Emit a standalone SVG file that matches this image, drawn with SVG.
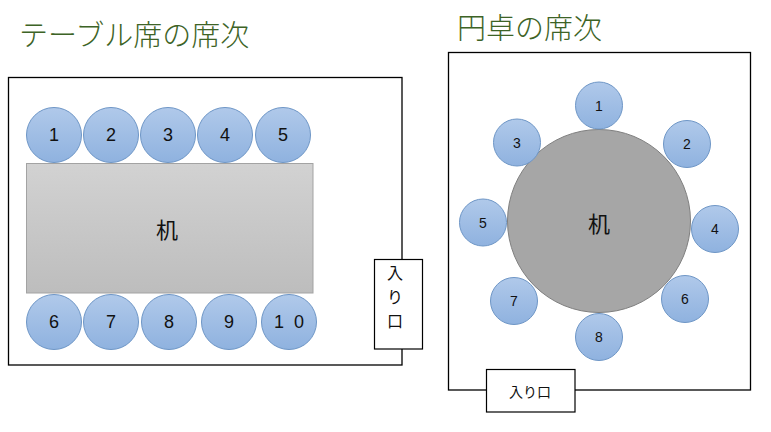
<svg xmlns="http://www.w3.org/2000/svg" width="771" height="432" viewBox="0 0 771 432">
<defs>
<linearGradient id="seat" x1="0" y1="0" x2="0" y2="1"><stop offset="0" stop-color="#b0c9ea"/><stop offset="1" stop-color="#8fb2df"/></linearGradient>
<linearGradient id="desk" x1="0" y1="0" x2="0" y2="1"><stop offset="0" stop-color="#d2d2d2"/><stop offset="1" stop-color="#bdbdbd"/></linearGradient>
</defs>
<style>
.title{font-family:"Noto Sans CJK JP","Liberation Sans",sans-serif;font-size:29px;fill:#3d6326;font-weight:300}
.room{fill:#fff;stroke:#000;stroke-width:1.3}
.seat{fill:url(#seat);stroke:#6e96c6;stroke-width:1}
.n{font-family:"Liberation Sans","Noto Sans CJK JP",sans-serif;fill:#111;text-anchor:middle;dominant-baseline:central}
.l{font-size:18px}
.s{font-size:14px}
.jp{font-family:"Noto Sans CJK JP",sans-serif;fill:#111;text-anchor:middle;dominant-baseline:central}
</style>
<rect width="771" height="432" fill="#fff"/>
<text class="title" x="19" y="46">テーブル席の席次</text>
<text class="title" x="457" y="39">円卓の席次</text>

<g id="room-left"><rect class="room" x="8.5" y="77.5" width="393.5" height="287.5"/></g>
<g id="desk-left"><rect x="26.5" y="163.5" width="286.5" height="129.5" fill="url(#desk)" stroke="#a3a3a3"/><text class="jp" x="167" y="228" font-size="22">机</text></g>
<g id="seat-l1"><circle class="seat" cx="54" cy="135" r="27.5"/><text class="n l" x="54" y="135">1</text></g>
<g id="seat-l2"><circle class="seat" cx="111" cy="135" r="27.5"/><text class="n l" x="111" y="135">2</text></g>
<g id="seat-l3"><circle class="seat" cx="168" cy="135" r="27.5"/><text class="n l" x="168" y="135">3</text></g>
<g id="seat-l4"><circle class="seat" cx="225" cy="135" r="27.5"/><text class="n l" x="225" y="135">4</text></g>
<g id="seat-l5"><circle class="seat" cx="283" cy="135" r="27.5"/><text class="n l" x="283" y="135">5</text></g>
<g id="seat-l6"><circle class="seat" cx="54" cy="322" r="27.5"/><text class="n l" x="54" y="322">6</text></g>
<g id="seat-l7"><circle class="seat" cx="111" cy="322" r="27.5"/><text class="n l" x="111" y="322">7</text></g>
<g id="seat-l8"><circle class="seat" cx="169" cy="322" r="27.5"/><text class="n l" x="169" y="322">8</text></g>
<g id="seat-l9"><circle class="seat" cx="229" cy="322" r="27.5"/><text class="n l" x="229" y="322">9</text></g>
<g id="seat-l10"><circle class="seat" cx="289" cy="322" r="27.5"/><text class="n l" x="289" y="322" xml:space="preserve">1  0</text></g>
<g id="entrance-left"><rect x="374.5" y="259.5" width="48" height="89.5" fill="#fff" stroke="#000" stroke-width="1.2"/>
<text class="jp" x="395" y="272" font-size="16">入</text><text class="jp" x="395" y="296" font-size="16">り</text><text class="jp" x="395" y="320" font-size="16">口</text></g>

<g id="room-right"><rect class="room" x="448.5" y="52.5" width="302" height="337.5"/></g>
<g id="desk-right"><circle cx="599" cy="221" r="91.5" fill="#a6a6a6" stroke="#7f7f7f"/><text class="jp" x="599" y="222" font-size="22">机</text></g>
<g id="seat-r1"><circle class="seat" cx="599" cy="105.5" r="23.5"/><text class="n s" x="599" y="105.5">1</text></g>
<g id="seat-r2"><circle class="seat" cx="687" cy="144" r="23.5"/><text class="n s" x="687" y="144">2</text></g>
<g id="seat-r3"><circle class="seat" cx="517" cy="142.5" r="23.5"/><text class="n s" x="517" y="142.5">3</text></g>
<g id="seat-r4"><circle class="seat" cx="715" cy="229" r="23.5"/><text class="n s" x="715" y="229">4</text></g>
<g id="seat-r5"><circle class="seat" cx="483" cy="222.5" r="23.5"/><text class="n s" x="483" y="222.5">5</text></g>
<g id="seat-r6"><circle class="seat" cx="685" cy="299" r="23.5"/><text class="n s" x="685" y="299">6</text></g>
<g id="seat-r7"><circle class="seat" cx="514" cy="301" r="23.5"/><text class="n s" x="514" y="301">7</text></g>
<g id="seat-r8"><circle class="seat" cx="599" cy="337" r="23.5"/><text class="n s" x="599" y="337">8</text></g>
<g id="entrance-right"><rect x="486.5" y="369.5" width="88.5" height="42.5" fill="#fff" stroke="#000" stroke-width="1.2"/><text class="jp" x="530" y="390.5" font-size="14">入り口</text></g>
<g id="connectors"/>
</svg>
